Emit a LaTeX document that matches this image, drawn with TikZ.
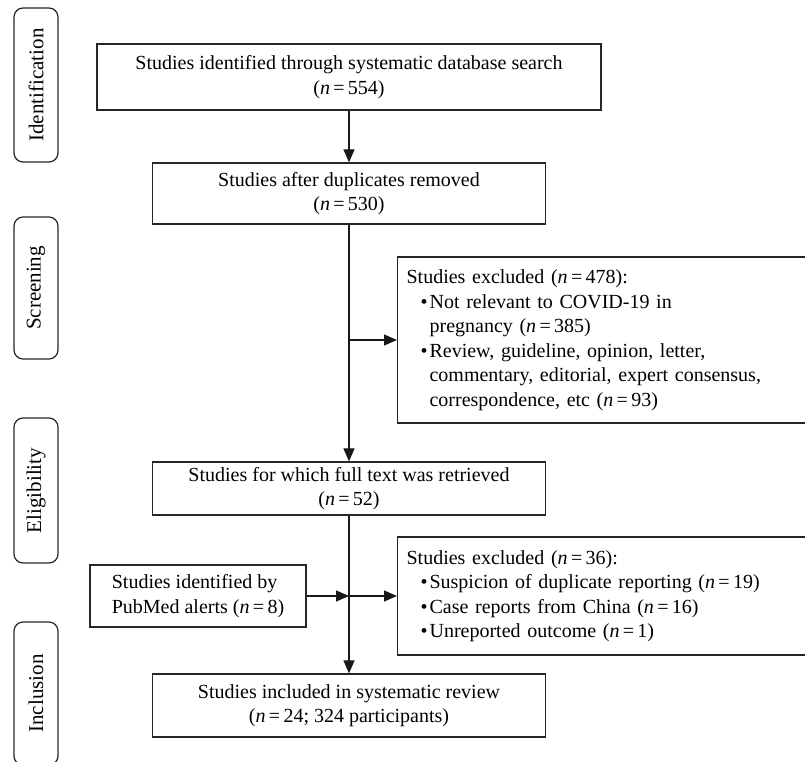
\documentclass[tikz,border=0pt]{standalone}
\usepackage{fontspec}
\setmainfont{Liberation Serif}
\usetikzlibrary{arrows.meta}
\newcommand{\nval}[1]{\textit{n}\,=\,#1}
\newcommand{\itm}{\hspace*{14pt}\makebox[9pt][l]{\textbullet}}
\newcommand{\cont}{\hspace*{23pt}}

\begin{document}
\begin{tikzpicture}[
  x=1pt,y=-1pt,
  font=\fontsize{20}{24.5}\selectfont,
  >={Triangle[length=13pt,width=11pt]},
  box/.style={draw=black!85,line width=1.2pt,align=center,inner sep=4pt},
  exbox/.style={draw=black!85,line width=1.2pt,align=left,anchor=west,
    minimum width=410pt,text width=392pt,inner xsep=9pt},
  stage/.style={draw=black!85,line width=1.2pt,rounded corners=9pt,rotate=90,
    minimum height=44pt,inner sep=2pt,font=\fontsize{21}{24}\selectfont},
  arrow/.style={->,line width=1.1pt,black!90}
]
  \useasboundingbox (0,0) rectangle (805,762);

  % phases on the left
  \node[stage,minimum width=154pt] (ident) at (36,85) {Identification};
  \node[stage,minimum width=142pt] (screen) at (36,288) {Screening};
  \node[stage,minimum width=145pt] (elig) at (36,490.5) {Eligibility};
  \node[stage,minimum width=143pt] (incl) at (36,693.5) {Inclusion};

  % main flow
  \node[box,minimum width=504pt,minimum height=66pt] (search) at (349,77)
    {Studies identified through systematic database search\\(\nval{554})};
  \node[box,minimum width=393pt,minimum height=61pt] (dedup) at (349,193.5)
    {Studies after duplicates removed\\(\nval{530})};
  \node[box,minimum width=393pt,minimum height=53pt] (fulltext) at (349,488.5)
    {Studies for which full text was retrieved\\(\nval{52})};
  \node[box,minimum width=393pt,minimum height=63pt] (included) at (349,705.5)
    {Studies included in systematic review\\(\nval{24}; 324 participants)};
  \node[box,align=left,minimum width=216pt,minimum height=62pt] (pubmed) at (198,596)
    {Studies identified by\\PubMed alerts (\nval{8})};

  % exclusions
  \node[exbox,minimum height=166pt] (excl1) at (397,340)
    {Studies excluded (\nval{478}):\\
     \itm Not relevant to COVID-19 in\\
     \cont pregnancy (\nval{385})\\
     \itm Review, guideline, opinion, letter,\\
     \cont commentary, editorial, expert consensus,\\
     \cont correspondence, etc (\nval{93})};
  \node[exbox,minimum height=118pt] (excl2) at (397,596)
    {Studies excluded (\nval{36}):\\
     \itm Suspicion of duplicate reporting (\nval{19})\\
     \itm Case reports from China (\nval{16})\\
     \itm Unreported outcome (\nval{1})};

  \coordinate (split1) at (dedup.south |- excl1.west);
  \coordinate (split2) at (fulltext.south |- pubmed.east);

  \draw[arrow] (search) -- (dedup);
  \draw[arrow] (dedup) -- (fulltext);
  \draw[arrow] (split1) -- (excl1.west);
  \draw[arrow] (fulltext) -- (included);
  \draw[arrow] (pubmed.east) -- (split2);
  \draw[arrow] (split2) -- (excl2.west);
\end{tikzpicture}
\end{document}
